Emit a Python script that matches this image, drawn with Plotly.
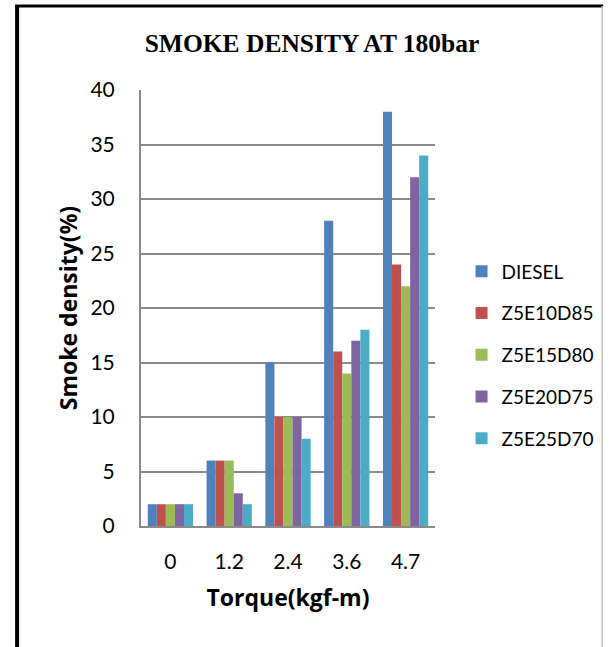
import plotly.graph_objects as go

# Torque settings (kgf-m) shown as categories on the x axis
torque = ["0", "1.2", "2.4", "3.6", "4.7"]

# Smoke density (%) for each fuel blend at 180 bar injection pressure
diesel = [2, 6, 15, 28, 38]
z5e10d85 = [2, 6, 10, 16, 24]
z5e15d80 = [2, 6, 10, 14, 22]
z5e20d75 = [2, 3, 10, 17, 32]
z5e25d70 = [2, 2, 8, 18, 34]

series_names = ["DIESEL", "Z5E10D85", "Z5E15D80", "Z5E20D75", "Z5E25D70"]
series_values = [diesel, z5e10d85, z5e15d80, z5e20d75, z5e25d70]
series_colors = ["#4F81BD", "#C0504D", "#9BBB59", "#8064A2", "#4BACC6"]

y_ticks = [0, 5, 10, 15, 20, 25, 30, 35, 40]

BODY_FONT = "Lato, 'Open Sans', sans-serif"
BOLD_FONT = "'Open Sans', Lato, sans-serif"
GRID = "#8a8a8a"

fig = go.Figure()
for name, vals, color in zip(series_names, series_values, series_colors):
    fig.add_trace(go.Bar(
        x=torque,
        y=vals,
        name=name,
        legendgroup=name,
        marker=dict(color=color, line=dict(width=0)),
    ))

L, R, T, B = 141, 171, 90, 121
W, H = 611, 647
pw, ph = W - L - R, H - T - B


def px_x(p):
    return (p - L) / pw


def px_y(p):
    return (H - B - p) / ph


fig.update_layout(
    width=W,
    height=H,
    margin=dict(l=L, r=R, t=T, b=B),
    paper_bgcolor="white",
    plot_bgcolor="white",
    barmode="group",
    bargap=0.23,
    bargroupgap=0,
    font=dict(family=BODY_FONT, size=21, color="black"),
    title=dict(
        text="<b>SMOKE DENSITY AT 180bar</b>",
        font=dict(family="'Liberation Serif', 'Times New Roman', serif", size=25.5, color="black"),
        x=312 / W, xanchor="center",
        y=1 - 43 / H, yanchor="middle",
    ),
    legend=dict(
        x=px_x(467), xanchor="left",
        y=px_y(355), yanchor="middle",
        font=dict(family=BODY_FONT, size=19, color="black"),
        traceorder="grouped",
        tracegroupgap=14,
        bgcolor="rgba(0,0,0,0)",
    ),
    xaxis=dict(
        type="category",
        showgrid=False,
        showline=True,
        linecolor=GRID,
        linewidth=2,
        ticks="",
        ticklabelstandoff=16,
        tickfont=dict(family=BODY_FONT, size=21),
        title=dict(text="<b>Torque(kgf-m)</b>", font=dict(family=BOLD_FONT, size=23), standoff=18),
    ),
    yaxis=dict(
        range=[0, 40],
        tickvals=y_ticks,
        showgrid=True,
        gridcolor=GRID,
        gridwidth=2,
        showline=True,
        linecolor=GRID,
        linewidth=2,
        zeroline=False,
        ticks="",
        ticklabelstandoff=20,
        tickfont=dict(family=BODY_FONT, size=21),
    ),
)

# Y axis title, placed beside the tick labels
fig.add_annotation(
    text="<b>Smoke density(%)</b>",
    xref="paper", yref="paper",
    x=px_x(67), y=px_y(308),
    xanchor="center", yanchor="middle",
    textangle=-90, showarrow=False,
    font=dict(family=BOLD_FONT, size=23, color="black"),
)

# Frame around the whole chart: heavy black left and top edges, thin grey right edge
fig.add_shape(type="line", xref="paper", yref="paper",
              x0=px_x(15), x1=px_x(15), y0=px_y(5), y1=px_y(660),
              line=dict(color="black", width=4))
fig.add_shape(type="line", xref="paper", yref="paper",
              x0=px_x(13), x1=px_x(611), y0=px_y(6), y1=px_y(6),
              line=dict(color="black", width=3))
fig.add_shape(type="line", xref="paper", yref="paper",
              x0=px_x(610), x1=px_x(610), y0=px_y(6), y1=px_y(660),
              line=dict(color="#bdbdbd", width=1.5))

fig.write_html("out.html")
